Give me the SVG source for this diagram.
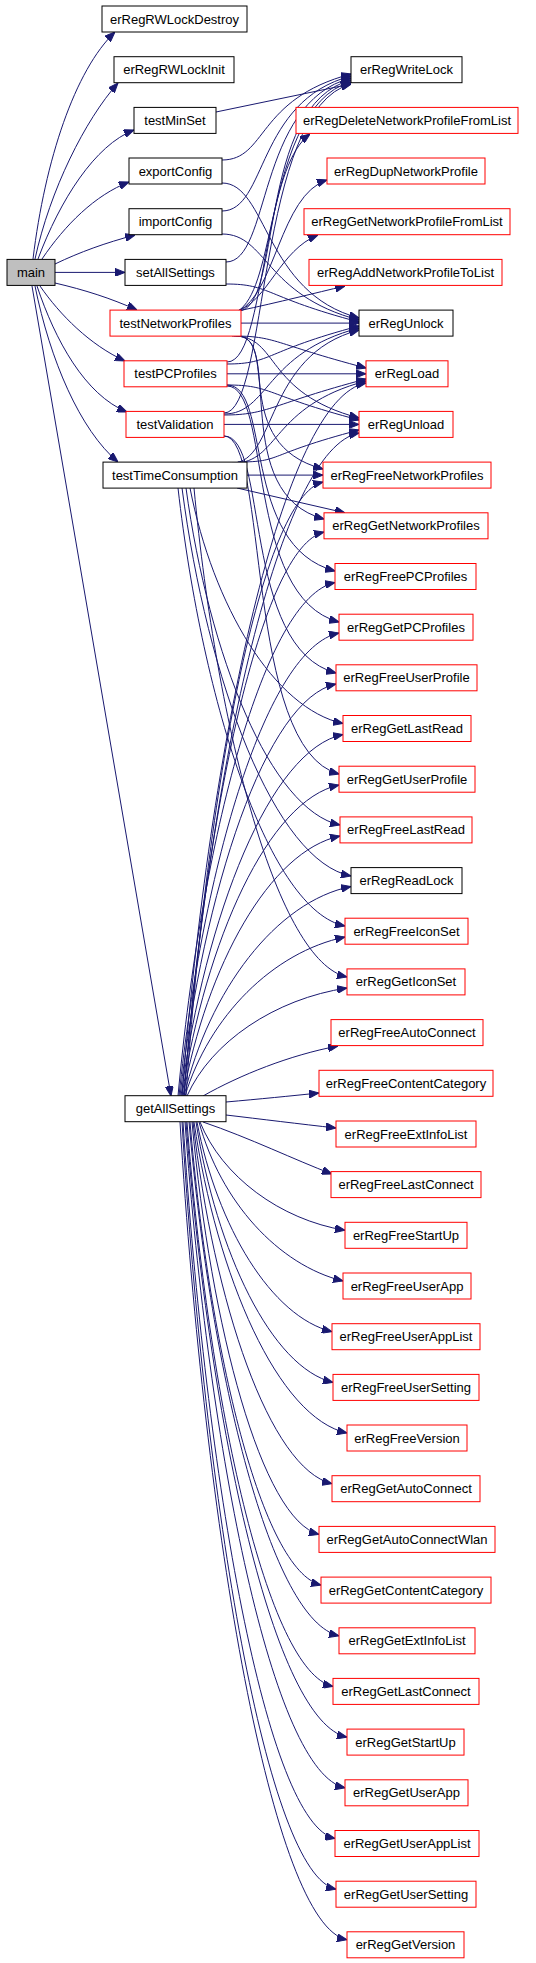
<svg xmlns="http://www.w3.org/2000/svg" width="536" height="1963" viewBox="0 0 536 1963">
<style>
.n rect{fill:#fff;stroke:#000;stroke-width:1}
.r rect{stroke:#f00}
#main rect{fill:#bfbfbf}
text{font-family:"Liberation Sans",Arial,sans-serif;font-size:13px;text-anchor:middle;fill:#000}
.e path{fill:none;stroke:#191970;stroke-width:1;marker-end:url(#a)}
</style>
<defs>
<marker id="a" viewBox="0 0 10 8" refX="10" refY="4" markerWidth="10" markerHeight="8" markerUnits="userSpaceOnUse" orient="auto"><path d="M0,0 L10,4 L0,8 z" fill="#191970" stroke="#191970"/></marker>
</defs>
<rect width="536" height="1963" fill="#fff"/>
<g class="e" id="edges">
<path d="M33,259 C45,160 75,70 115,32"/>
<path d="M35,259 C50,190 85,120 118,83"/>
<path d="M38,259 C60,200 95,145 134,130"/>
<path d="M42,259 C65,225 95,195 129,182"/>
<path d="M55,264 C80,252 105,243 135,235"/>
<path d="M55,272.4 L125,272.4"/>
<path d="M55,283 C85,290 110,298 137,310"/>
<path d="M40,286 C60,315 90,345 125,361"/>
<path d="M37,286 C55,340 85,395 127,412"/>
<path d="M35,286 C50,360 80,430 118,462"/>
<path d="M32,286 L171,1096"/>
<path d="M216,112 L351,84"/>
<path d="M222,160 C267,160 256,99 351,74"/>
<path d="M222,211 C267,211 256,101 351,76"/>
<path d="M226,262 C271,262 256,103 351,78"/>
<path d="M238,311 C283,311 256,105 351,80"/>
<path d="M227,362 C272,362 256,107 351,82"/>
<path d="M224,413 C269,413 256,109 351,84"/>
<path d="M238,311 C272,290 268,165 310,134"/>
<path d="M238,311 C275,295 280,195 327,180"/>
<path d="M238,311 C268,300 280,250 318,235"/>
<path d="M238,311 C280,302 315,293 345,286"/>
<path d="M222,183 C267,183 264,293 359,318"/>
<path d="M222,234 C267,234 264,295 359,320"/>
<path d="M226,284 C271,284 264,297 359,322"/>
<path d="M241,323.1 L359,323.1"/>
<path d="M227,364 C272,364 264,351 359,326"/>
<path d="M224,414 C269,414 264,353 359,328"/>
<path d="M232,463 C277,463 264,355 359,330"/>
<path d="M232,336 C277,336 271,343 366,368"/>
<path d="M227,373.8 L366,373.8"/>
<path d="M224,415 C269,415 271,404 366,379"/>
<path d="M234,463 C279,463 271,406 366,381"/>
<path d="M182,1096 C209.6,739.5 283.2,398 366,383"/>
<path d="M234,336 C279,336 264,393 359,418"/>
<path d="M227,385 C272,385 264,395 359,420"/>
<path d="M224,424.4 L359,424.4"/>
<path d="M238,462 C283,462 264,455 359,430"/>
<path d="M184,1096 C210,764.5 280,448 359,433"/>
<path d="M236,336 C281,336 228,444 323,469"/>
<path d="M247,475.1 L323,475.1"/>
<path d="M186,1096 C206.6,789 261.4,497 323,482"/>
<path d="M238,336 C283,336 229,494 324,519"/>
<path d="M237,488 L345,512.8"/>
<path d="M184,1096 C205,814 261,547 324,532"/>
<path d="M227,385 C272,385 240,546 335,571"/>
<path d="M227,386 C272,386 244,597 339,622"/>
<path d="M224,436 C269,436 241,648 336,673"/>
<path d="M224,436 C269,436 244,749 339,774"/>
<path d="M190,488 C213,605.8 274.2,708.5 343,723.5"/>
<path d="M186,488 C209,656.5 270.7,810 340,825"/>
<path d="M182,488 C207.4,682 275,861 351,876"/>
<path d="M178,488 C203,707 270,911 345,926"/>
<path d="M194,488 C217,732.5 278,962 347,977"/>
<path d="M178,1096 C201.6,839 264.4,597.5 335,582.5"/>
<path d="M179,1096 C203,864.5 267,648 339,633"/>
<path d="M180,1096 C203.4,890 265.8,699 336,684"/>
<path d="M181,1096 C205.3,915 270.1,749.5 343,734.5"/>
<path d="M182,1096 C205.6,940.5 268.4,800 339,785"/>
<path d="M183,1096 C206.6,966 269.4,851 340,836"/>
<path d="M184,1096 C209,991 275.9,901.5 351,886.5"/>
<path d="M185,1096 C209,1016.5 273,952 345,937"/>
<path d="M187,1096 C211,1042 275,998.8 347,988"/>
<path d="M203,1096 C240,1075 290,1055 338,1046"/>
<path d="M226,1102 C260,1099 290,1096 319,1093"/>
<path d="M226,1115 C260,1119 300,1124 336,1128"/>
<path d="M203,1122 C250,1138 295,1160 332,1174"/>
<path d="M200,1122 C221.8,1176.2 279.8,1219.5 345,1230.3"/>
<path d="M199,1122 C220.6,1201.5 278.2,1265 343,1281"/>
<path d="M197,1122 C217.3,1226.9 271.3,1316.7 332,1331.7"/>
<path d="M196,1122 C216.6,1252.2 271.4,1367.4 333,1382.4"/>
<path d="M194,1122 C217,1277.5 278.2,1418 347,1433"/>
<path d="M193,1122 C213.9,1302.9 269.5,1468.7 332,1483.7"/>
<path d="M192,1122 C211,1328.2 261.9,1519.4 319,1534.4"/>
<path d="M190,1122 C209.7,1353.6 262,1570.1 321,1585.1"/>
<path d="M189,1122 C211.5,1378.9 271.5,1620.8 339,1635.8"/>
<path d="M187,1122 C208.9,1404.2 267.3,1671.4 333,1686.4"/>
<path d="M186,1122 C210.2,1429.6 274.6,1722.1 347,1737.1"/>
<path d="M185,1122 C209,1454.9 273,1772.8 345,1787.8"/>
<path d="M183,1122 C205.8,1480.3 266.6,1823.5 335,1838.5"/>
<path d="M182,1122 C205.1,1505.6 266.7,1874.2 336,1889.2"/>
<path d="M180,1122 C205,1530.9 271.9,1924.8 347,1939.8"/>
</g>
<g id="main" class="n"><rect x="7" y="259.4" width="48" height="26"/><text x="31" y="276.9">main</text></g>
<g id="erRegRWLockDestroy" class="n"><rect x="102" y="6" width="145" height="26"/><text x="174.5" y="23.5">erRegRWLockDestroy</text></g>
<g id="erRegRWLockInit" class="n"><rect x="114" y="56.7" width="120" height="26"/><text x="174" y="74.2">erRegRWLockInit</text></g>
<g id="testMinSet" class="n"><rect x="134" y="107.4" width="82" height="26"/><text x="175" y="124.9">testMinSet</text></g>
<g id="exportConfig" class="n"><rect x="129" y="158" width="93" height="26"/><text x="175.5" y="175.5">exportConfig</text></g>
<g id="importConfig" class="n"><rect x="129" y="208.7" width="93" height="26"/><text x="175.5" y="226.2">importConfig</text></g>
<g id="setAllSettings" class="n"><rect x="125" y="259.4" width="101" height="26"/><text x="175.5" y="276.9">setAllSettings</text></g>
<g id="testNetworkProfiles" class="n r"><rect x="110" y="310.1" width="131" height="26"/><text x="175.5" y="327.6">testNetworkProfiles</text></g>
<g id="testPCProfiles" class="n r"><rect x="124" y="360.8" width="103" height="26"/><text x="175.5" y="378.3">testPCProfiles</text></g>
<g id="testValidation" class="n r"><rect x="126" y="411.4" width="98" height="26"/><text x="175" y="428.9">testValidation</text></g>
<g id="testTimeConsumption" class="n"><rect x="103" y="462.1" width="144" height="26"/><text x="175" y="479.6">testTimeConsumption</text></g>
<g id="getAllSettings" class="n"><rect x="125" y="1095.7" width="101" height="26"/><text x="175.5" y="1113.2">getAllSettings</text></g>
<g id="erRegWriteLock" class="n"><rect x="351" y="56.7" width="111" height="26"/><text x="406.5" y="74.2">erRegWriteLock</text></g>
<g id="erRegDeleteNetworkProfileFromList" class="n r"><rect x="296" y="107.4" width="222" height="26"/><text x="407" y="124.9">erRegDeleteNetworkProfileFromList</text></g>
<g id="erRegDupNetworkProfile" class="n r"><rect x="327" y="158" width="158" height="26"/><text x="406" y="175.5">erRegDupNetworkProfile</text></g>
<g id="erRegGetNetworkProfileFromList" class="n r"><rect x="304" y="208.7" width="206" height="26"/><text x="407" y="226.2">erRegGetNetworkProfileFromList</text></g>
<g id="erRegAddNetworkProfileToList" class="n r"><rect x="309" y="259.4" width="193" height="26"/><text x="405.5" y="276.9">erRegAddNetworkProfileToList</text></g>
<g id="erRegUnlock" class="n"><rect x="359" y="310.1" width="94" height="26"/><text x="406" y="327.6">erRegUnlock</text></g>
<g id="erRegLoad" class="n r"><rect x="366" y="360.8" width="82" height="26"/><text x="407" y="378.3">erRegLoad</text></g>
<g id="erRegUnload" class="n r"><rect x="359" y="411.4" width="94" height="26"/><text x="406" y="428.9">erRegUnload</text></g>
<g id="erRegFreeNetworkProfiles" class="n r"><rect x="323" y="462.1" width="168" height="26"/><text x="407" y="479.6">erRegFreeNetworkProfiles</text></g>
<g id="erRegGetNetworkProfiles" class="n r"><rect x="324" y="512.8" width="164" height="26"/><text x="406" y="530.3">erRegGetNetworkProfiles</text></g>
<g id="erRegFreePCProfiles" class="n r"><rect x="335" y="563.5" width="141" height="26"/><text x="405.5" y="581">erRegFreePCProfiles</text></g>
<g id="erRegGetPCProfiles" class="n r"><rect x="339" y="614.2" width="134" height="26"/><text x="406" y="631.7">erRegGetPCProfiles</text></g>
<g id="erRegFreeUserProfile" class="n r"><rect x="336" y="664.8" width="141" height="26"/><text x="406.5" y="682.3">erRegFreeUserProfile</text></g>
<g id="erRegGetLastRead" class="n r"><rect x="343" y="715.5" width="128" height="26"/><text x="407" y="733">erRegGetLastRead</text></g>
<g id="erRegGetUserProfile" class="n r"><rect x="339" y="766.2" width="136" height="26"/><text x="407" y="783.7">erRegGetUserProfile</text></g>
<g id="erRegFreeLastRead" class="n r"><rect x="340" y="816.9" width="132" height="26"/><text x="406" y="834.4">erRegFreeLastRead</text></g>
<g id="erRegReadLock" class="n"><rect x="351" y="867.6" width="111" height="26"/><text x="406.5" y="885.1">erRegReadLock</text></g>
<g id="erRegFreeIconSet" class="n r"><rect x="345" y="918.2" width="123" height="26"/><text x="406.5" y="935.7">erRegFreeIconSet</text></g>
<g id="erRegGetIconSet" class="n r"><rect x="347" y="968.9" width="118" height="26"/><text x="406" y="986.4">erRegGetIconSet</text></g>
<g id="erRegFreeAutoConnect" class="n r"><rect x="331" y="1019.6" width="152" height="26"/><text x="407" y="1037.1">erRegFreeAutoConnect</text></g>
<g id="erRegFreeContentCategory" class="n r"><rect x="319" y="1070.3" width="174" height="26"/><text x="406" y="1087.8">erRegFreeContentCategory</text></g>
<g id="erRegFreeExtInfoList" class="n r"><rect x="336" y="1121" width="140" height="26"/><text x="406" y="1138.5">erRegFreeExtInfoList</text></g>
<g id="erRegFreeLastConnect" class="n r"><rect x="331" y="1171.6" width="150" height="26"/><text x="406" y="1189.1">erRegFreeLastConnect</text></g>
<g id="erRegFreeStartUp" class="n r"><rect x="345" y="1222.3" width="122" height="26"/><text x="406" y="1239.8">erRegFreeStartUp</text></g>
<g id="erRegFreeUserApp" class="n r"><rect x="343" y="1273" width="128" height="26"/><text x="407" y="1290.5">erRegFreeUserApp</text></g>
<g id="erRegFreeUserAppList" class="n r"><rect x="332" y="1323.7" width="148" height="26"/><text x="406" y="1341.2">erRegFreeUserAppList</text></g>
<g id="erRegFreeUserSetting" class="n r"><rect x="333" y="1374.4" width="146" height="26"/><text x="406" y="1391.9">erRegFreeUserSetting</text></g>
<g id="erRegFreeVersion" class="n r"><rect x="347" y="1425" width="120" height="26"/><text x="407" y="1442.5">erRegFreeVersion</text></g>
<g id="erRegGetAutoConnect" class="n r"><rect x="332" y="1475.7" width="148" height="26"/><text x="406" y="1493.2">erRegGetAutoConnect</text></g>
<g id="erRegGetAutoConnectWlan" class="n r"><rect x="319" y="1526.4" width="176" height="26"/><text x="407" y="1543.9">erRegGetAutoConnectWlan</text></g>
<g id="erRegGetContentCategory" class="n r"><rect x="321" y="1577.1" width="170" height="26"/><text x="406" y="1594.6">erRegGetContentCategory</text></g>
<g id="erRegGetExtInfoList" class="n r"><rect x="339" y="1627.8" width="136" height="26"/><text x="407" y="1645.3">erRegGetExtInfoList</text></g>
<g id="erRegGetLastConnect" class="n r"><rect x="333" y="1678.4" width="146" height="26"/><text x="406" y="1695.9">erRegGetLastConnect</text></g>
<g id="erRegGetStartUp" class="n r"><rect x="347" y="1729.1" width="117" height="26"/><text x="405.5" y="1746.6">erRegGetStartUp</text></g>
<g id="erRegGetUserApp" class="n r"><rect x="345" y="1779.8" width="123" height="26"/><text x="406.5" y="1797.3">erRegGetUserApp</text></g>
<g id="erRegGetUserAppList" class="n r"><rect x="335" y="1830.5" width="144" height="26"/><text x="407" y="1848">erRegGetUserAppList</text></g>
<g id="erRegGetUserSetting" class="n r"><rect x="336" y="1881.2" width="140" height="26"/><text x="406" y="1898.7">erRegGetUserSetting</text></g>
<g id="erRegGetVersion" class="n r"><rect x="347" y="1931.8" width="117" height="26"/><text x="405.5" y="1949.3">erRegGetVersion</text></g>
</svg>
